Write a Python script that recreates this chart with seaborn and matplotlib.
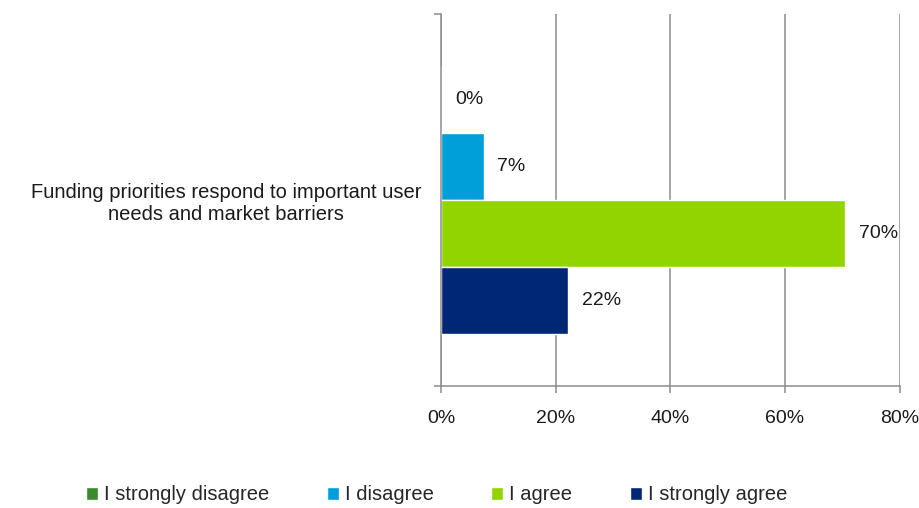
import pandas as pd
import seaborn as sns
import matplotlib.pyplot as plt

# data
question = ['Funding priorities respond to important user\nneeds and market barriers']
responses = ['I strongly disagree', 'I disagree', 'I agree', 'I strongly agree']
shares = [0.0, 7.4, 70.4, 22.2]   # percent of respondents
colors = ['#3a8a2e', '#009fda', '#92d400', '#002776']
x_ticks = [0, 20, 40, 60, 80]

df = pd.DataFrame({'question': question * len(responses),
                   'response': responses,
                   'share': shares})

sns.set_theme(style='white')
plt.rcParams['font.family'] = ['Liberation Sans', 'DejaVu Sans']

fig = plt.figure(figsize=(9.19, 5.08), dpi=100)
ax = fig.add_axes([0.48, 0.24, 0.499, 0.732])

sns.barplot(data=df, y='question', x='share', hue='response',
            hue_order=responses, palette=colors, saturation=1,
            width=0.72, orient='h', ax=ax)

# value labels next to the bars
for c in ax.containers:
    ax.bar_label(c, fmt=lambda v: f'{v:.0f}%', padding=10, fontsize=14,
                 color='#1a1a1a')

# x axis
ax.set_xlim(0, 80)
ax.set_xticks(x_ticks, labels=[f'{t}%' for t in x_ticks])
ax.grid(axis='x', color='#8c8c8c', linewidth=1.1)
ax.set_axisbelow(True)
ax.set_xlabel('')
ax.set_ylabel('')

# y axis: label at the center, little ticks at the ends
ax.set_ylim(0.5, -0.5)
ax.set_yticks([-0.5, 0.5], minor=True)
ax.tick_params(axis='y', which='major', length=0, pad=14, labelsize=14.5,
               labelcolor='#1a1a1a')
ax.tick_params(axis='y', which='minor', left=True, length=5, width=1.1,
               color='#8c8c8c')
ax.tick_params(axis='x', bottom=True, length=5, width=1.1, color='#8c8c8c',
               pad=12, labelsize=14, labelcolor='#1a1a1a')
for lab in ax.get_yticklabels():
    lab.set_multialignment('center')

sns.despine(ax=ax, top=True, right=True)
for s in ['left', 'bottom']:
    ax.spines[s].set_color('#8c8c8c')
    ax.spines[s].set_linewidth(1.1)

# legend under the chart
sns.move_legend(ax, 'center', bbox_to_anchor=(0.475, 0.026),
                bbox_transform=fig.transFigure, ncol=4, frameon=False,
                title=None, fontsize=14.5, handlelength=0.6, handleheight=0.6,
                handletextpad=0.3, columnspacing=2.85)

plt.savefig('out.png', dpi=100)
